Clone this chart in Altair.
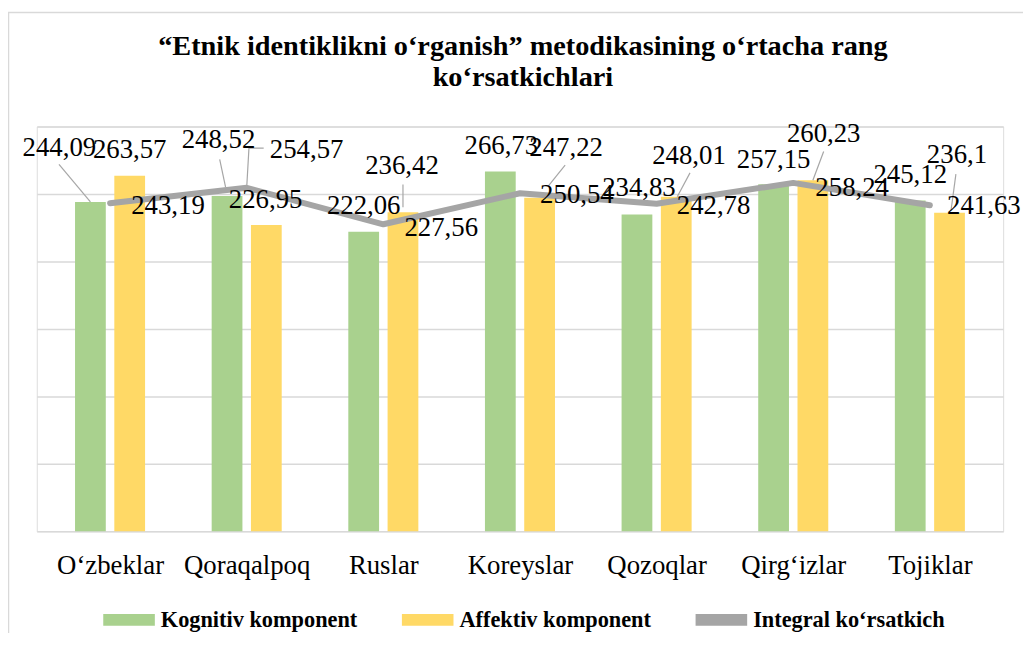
import altair as alt
import pandas as pd

# ---------------- data ----------------
categories = ["O‘zbeklar", "Qoraqalpoq", "Ruslar", "Koreyslar", "Qozoqlar", "Qirg‘izlar", "Tojiklar"]
kognitiv = [244.09, 248.52, 222.06, 266.73, 234.83, 257.15, 245.12]
affektiv = [263.57, 226.95, 236.42, 247.22, 248.01, 260.23, 236.1]
integral = [243.19, 254.57, 227.56, 250.54, 242.78, 258.24, 241.63]
series_names = ["Kognitiv komponent", "Affektiv komponent", "Integral ko‘rsatkich"]
colors = ["#A9D18E", "#FFD966", "#A5A5A5"]
title_lines = ["“Etnik identiklikni o‘rganish” metodikasining o‘rtacha rang", "ko‘rsatkichlari"]

# data-label placement (pixel offsets from the data point: dx right, dy down to text baseline)
kog_dx = [-31.6, -8.7, 0, 1, 2, 0, 0]
kog_dy = [-46, -48, -18, -17.2, -18.6, -16.3, -17.6]
aff_dx = [0, -0.7, -1, 27, 13, 11, 7.6]
aff_dy = [-17.5, -17.3, -38.5, -41.8, -32.7, -38, -50]
int_dx = [59, 61, 59, 58, 58, 60, 55]
int_dy = [10.7, -30, 11.5, 9.7, 10.2, 13, 8.6]
# leader lines: (series, category index, list of pixel offsets from the data point)
leaders = [
    ("K", 0, [(0, 0), (-32, -38)]),
    ("K", 1, [(-1.5, -9), (-7.5, -37)]),
    ("I", 1, [(0, 0), (2.3, -40), (17.3, -40)]),
    ("A", 2, [(0, -5), (0, -28)]),
    ("A", 3, [(9, -12), (26, -33)]),
    ("A", 4, [(1, 0), (14, -24)]),
    ("A", 5, [(0, 0), (11, -29)]),
    ("A", 6, [(1.5, -2), (6.5, -39)]),
]

# ---------------- layout ----------------
W, H = 974, 408
Y_MAX = 300
N = len(categories)
PX_X = W / N
PX_Y = H / Y_MAX
SHIFT = {"K": -20 / PX_X, "A": 20 / PX_X, "I": 0.0}
VALUES = {"K": kognitiv, "A": affektiv, "I": integral}
FONT = "Liberation Serif"

def fmt(v):
    return str(v).replace(".", ",")

bars = pd.DataFrame(
    [{"x": i + SHIFT["K"], "y": kognitiv[i], "s": series_names[0]} for i in range(N)]
    + [{"x": i + SHIFT["A"], "y": affektiv[i], "s": series_names[1]} for i in range(N)]
)
line = pd.DataFrame({"x": list(range(N)), "y": integral})

lab_rows = []
for key, dxs, dys in (("K", kog_dx, kog_dy), ("A", aff_dx, aff_dy), ("I", int_dx, int_dy)):
    for i in range(N):
        v = VALUES[key][i]
        lab_rows.append({"x": i + SHIFT[key] + dxs[i] / PX_X, "y": v - dys[i] / PX_Y, "t": fmt(v)})
labels = pd.DataFrame(lab_rows)

lead_rows = []
for n, (key, i, pts) in enumerate(leaders):
    v = VALUES[key][i]
    for k, (dx, dy) in enumerate(pts):
        lead_rows.append({"id": n, "o": k, "x": i + SHIFT[key] + dx / PX_X, "y": v - dy / PX_Y})
lead = pd.DataFrame(lead_rows)

label_expr = "[" + ",".join("'" + c + "'" for c in categories) + "][datum.value]"

x_enc = alt.X(
    "x:Q",
    scale=alt.Scale(domain=[-0.5, N - 0.5], nice=False, zero=False),
    axis=alt.Axis(
        values=list(range(N)), labelExpr=label_expr, grid=False, ticks=False, tickSize=0,
        domain=False, title=None, labelFont=FONT, labelFontSize=27, labelColor="black",
        labelBaseline="alphabetic", labelPadding=43, labelOverlap=False, labelFlush=False,
        labelBound=False,
    ),
)
y_enc = alt.Y(
    "y:Q",
    scale=alt.Scale(domain=[0, Y_MAX], nice=False),
    axis=alt.Axis(
        values=list(range(0, Y_MAX + 1, 50)), grid=True, gridColor="#D9D9D9", gridWidth=1.5,
        labels=False, ticks=False, domain=False, title=None,
    ),
)

frame = alt.Chart(pd.DataFrame({"a": [0]})).mark_rect(
    filled=False, stroke="#D9D9D9", strokeWidth=1.5, clip=False
).encode(x=alt.value(-28.5), y=alt.value(-115), x2=alt.value(1300), y2=alt.value(900))

bar_layer = alt.Chart(bars).mark_bar(width=31).encode(
    x=x_enc,
    y=y_enc,
    color=alt.Color(
        "s:N",
        scale=alt.Scale(domain=series_names, range=colors),
        legend=alt.Legend(
            orient="none", legendX=67, legendY=471, direction="horizontal", columns=3,
            title=None, symbolType="M-1,-0.23H1V0.23H-1Z", symbolSize=2704,
            symbolStrokeWidth=0, symbolOpacity=1, labelFont=FONT, labelFontSize=22.5,
            labelFontWeight="bold", labelColor="black", labelOffset=6, columnPadding=44,
            padding=0, labelLimit=400,
        ),
    ),
)

line_layer = alt.Chart(line).mark_line(
    color=colors[2], strokeWidth=6, strokeCap="round", strokeJoin="round"
).encode(x=x_enc, y=y_enc)

lead_layer = alt.Chart(lead).mark_line(color="#A6A6A6", strokeWidth=1.2).encode(
    x=x_enc, y=y_enc, detail="id:N", order="o:Q"
)

text_layer = alt.Chart(labels).mark_text(
    font=FONT, fontSize=27, align="center", baseline="alphabetic", color="black"
).encode(x=x_enc, y=y_enc, text="t:N")

chart = (
    alt.layer(frame, bar_layer, line_layer, lead_layer, text_layer)
    .properties(
        width=W,
        height=H,
        padding={"left": 29, "top": 117, "right": 20, "bottom": 100},
        autosize=alt.AutoSizeParams(type="none"),
        title=alt.TitleParams(
            text=title_lines, font=FONT, fontSize=28.5, fontWeight="bold", color="black",
            anchor="middle", frame="group", offset=-80, lineHeight=31, dx=3,
        ),
    )
    .configure_view(strokeWidth=0)
    .configure(background="white")
)

chart.save("out.html", embed_options={"renderer": "svg", "actions": False})
